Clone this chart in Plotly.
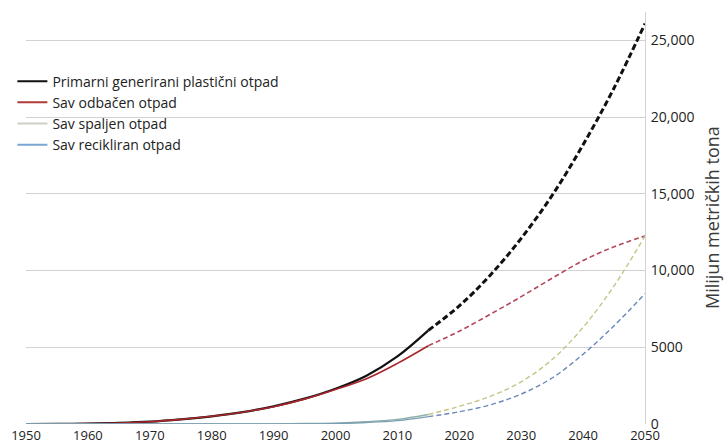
import plotly.graph_objects as go

# Historical (solid) years and values, million metric tonnes (cumulative)
years_hist = [1950, 1955, 1960, 1965, 1970, 1975, 1980, 1985, 1990, 1995, 2000, 2005, 2010, 2015]
generated_hist = [0, 10, 30, 70, 150, 300, 500, 770, 1150, 1650, 2300, 3150, 4400, 6100]
discarded_hist = [0, 10, 30, 70, 150, 300, 500, 770, 1130, 1620, 2250, 2950, 3950, 5100]
incinerated_hist = [0, 0, 0, 0, 0, 0, 0, 2, 10, 30, 60, 150, 300, 620]
recycled_hist = [0, 0, 0, 0, 0, 0, 0, 1, 5, 15, 40, 100, 220, 480]

# Projections (dashed)
years_proj = [2015, 2020, 2025, 2030, 2035, 2040, 2045, 2050]
generated_proj = [6100, 7700, 9700, 12100, 14900, 18200, 21900, 26100]
discarded_proj = [5100, 6050, 7150, 8300, 9500, 10650, 11550, 12250]
incinerated_proj = [620, 1150, 1800, 2750, 4200, 6300, 9000, 12250]
recycled_proj = [480, 800, 1250, 1950, 3000, 4550, 6400, 8500]

names = ["Primarni generirani plastični otpad", "Sav odbačen otpad",
         "Sav spaljen otpad", "Sav recikliran otpad"]
y_title = "Milijun metričkih tona"

y_tickvals = [0, 5000, 10000, 15000, 20000, 25000]
y_ticktext = ["0", "5000", "10,000", "15,000", "20,000", "25,000"]
x_tickvals = [1950, 1960, 1970, 1980, 1990, 2000, 2010, 2020, 2030, 2040, 2050]

hist = [generated_hist, discarded_hist, incinerated_hist, recycled_hist]
proj = [generated_proj, discarded_proj, incinerated_proj, recycled_proj]
solid_colors = ["#111111", "#a8262c", "#8fb0a8", "#7a9fb2"]
legend_colors = ["#111111", "#b03a3a", "#cfcfc4", "#7aa6d4"]
dash_colors = ["#111111", "#b5475a", "#c4c488", "#6a88bb"]
solid_widths = [2.2, 1.6, 1.4, 1.4]
dash_widths = [3, 1.6, 1.4, 1.4]
dash_styles = ["6px,3px", "5px,3px", "5px,3px", "5px,3px"]

fig = go.Figure()
for i in range(4):
    fig.add_trace(go.Scatter(
        x=years_hist, y=hist[i], mode="lines", name=names[i],
        line=dict(color=solid_colors[i], width=solid_widths[i], shape="spline"),
        showlegend=False))
    fig.add_trace(go.Scatter(
        x=years_proj, y=proj[i], mode="lines", name=names[i],
        line=dict(color=dash_colors[i], width=dash_widths[i], dash=dash_styles[i],
                  shape="spline"),
        showlegend=False))
# legend entries
for i in range(4):
    fig.add_trace(go.Scatter(
        x=[None], y=[None], mode="lines", name=names[i],
        line=dict(color=legend_colors[i], width=2)))

fig.update_layout(
    width=726, height=443,
    margin=dict(l=26, r=81, t=12, b=19, autoexpand=False),
    paper_bgcolor="white", plot_bgcolor="white",
    font=dict(family="Open Sans, sans-serif", size=13, color="#222222"),
    showlegend=True,
    legend=dict(x=-0.022, y=0.87, xanchor="left", yanchor="top",
                bgcolor="rgba(0,0,0,0)", font=dict(size=14, color="#222222"),
                itemwidth=30, tracegroupgap=0),
    xaxis=dict(range=[1950, 2050], tickvals=x_tickvals, showgrid=False,
               zeroline=False, showline=False, ticks="", ticklabelstandoff=2,
               automargin=False, tickfont=dict(size=13, color="#222222")),
    yaxis=dict(range=[0, 26850], side="right", tickvals=y_tickvals,
               ticktext=y_ticktext, showgrid=True, gridcolor="#d2d2d2",
               gridwidth=1, zeroline=False, showline=True, linecolor="#d2d2d2",
               ticks="", ticklabelstandoff=2, automargin=False,
               tickfont=dict(size=14, color="#222222")),
    annotations=[dict(text=y_title, textangle=-90, xref="paper", yref="paper",
                      x=1, y=0.5, xanchor="center", yanchor="middle",
                      xshift=67, showarrow=False,
                      font=dict(size=18, color="#3a3a3a"))],
)

fig.write_html("out.html", config={"displayModeBar": False},
               post_script="document.body.style.margin='0px';"
                           "document.body.style.overflow='hidden';")
